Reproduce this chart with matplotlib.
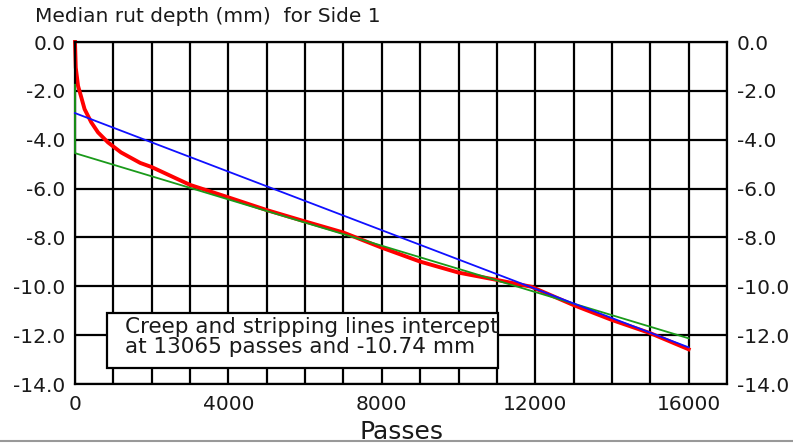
import matplotlib
matplotlib.use("Agg")
import matplotlib.pyplot as plt
from matplotlib.lines import Line2D
from matplotlib.patches import Rectangle
from matplotlib.ticker import MultipleLocator, FixedLocator

# Measured median rut depth (red) against load passes
passes = [0, 20, 40, 80, 165, 250, 425, 600, 860, 1200, 1700, 2000, 3000,
          4000, 5000, 5900, 7000, 8000, 9000, 10000, 11000, 11900, 13000,
          14000, 15000, 16000]
rut_depth = [0.0, -1.05, -1.30, -1.80, -2.27, -2.75, -3.29, -3.70, -4.11,
             -4.52, -4.95, -5.12, -5.85, -6.36, -6.88, -7.30, -7.80, -8.42,
             -8.99, -9.44, -9.74, -10.02, -10.77, -11.38, -11.92, -12.58]

# Fitted creep line (green) and stripping line (blue)
creep_passes = [0, 0, 16000]
creep_depth = [-1.75, -4.55, -12.13]
strip_passes = [0, 16000]
strip_depth = [-2.91, -12.50]

intercept_passes = 13065
intercept_depth = -10.74

x_ticks = [0, 4000, 8000, 12000, 16000]
y_ticks = [0.0, -2.0, -4.0, -6.0, -8.0, -10.0, -12.0, -14.0]

W, H = 793, 443
fig = plt.figure(figsize=(W / 100, H / 100), dpi=100)
fig.patch.set_facecolor("white")

ax = fig.add_axes([75 / W, (H - 384) / H, 652 / W, 342 / H])
ax.set_xlim(0, 17000)
ax.set_ylim(-14, 0)

ax.xaxis.set_major_locator(FixedLocator(x_ticks))
ax.xaxis.set_minor_locator(MultipleLocator(1000))
ax.yaxis.set_major_locator(FixedLocator(y_ticks))
ax.set_yticklabels([f"{abs(v):.1f}" if v == 0 else f"{v:.1f}" for v in y_ticks])
ax.set_xticklabels([str(v) for v in x_ticks])

ax.grid(True, which="both", axis="x", color="black", lw=1.6)
ax.grid(True, which="major", axis="y", color="black", lw=1.6)
ax.set_axisbelow(True)
for s in ax.spines.values():
    s.set_color("black")
    s.set_linewidth(1.6)

txt_color = "#1a1a1a"
ax.tick_params(which="both", length=0, labelsize=14.5, labelcolor=txt_color)
ax.tick_params(axis="y", labelright=True, pad=7)
ax.tick_params(axis="x", pad=8)

ax.plot(creep_passes, creep_depth, color="#1a9a1a", lw=1.3, zorder=3, clip_on=False)
ax.plot(strip_passes, strip_depth, color="#1010ff", lw=1.3, zorder=4, clip_on=False)
ax.plot(passes, rut_depth, color="#ff0000", lw=2.8, zorder=2, clip_on=False,
        solid_joinstyle="round")

# Annotation box with the intercept of the two fitted lines
ax.add_patch(Rectangle((835, -13.34), 11030 - 835, 13.34 - 11.09,
                       facecolor="white", edgecolor="black", lw=1.6, zorder=5))
ax.text(1300, -11.67, "Creep and stripping lines intercept",
        fontsize=15.5, color=txt_color, va="center", ha="left", zorder=6)
ax.text(1300, -12.48,
        f"at {intercept_passes} passes and {intercept_depth:.2f} mm",
        fontsize=15.5, color=txt_color, va="center", ha="left", zorder=6)

ax.set_xlabel("Passes", fontsize=18, color=txt_color, labelpad=4)

fig.text(35 / W, (H - 17) / H, "Median rut depth (mm)  for Side 1",
         fontsize=14.5, color=txt_color, ha="left", va="center")

fig.add_artist(Line2D([0, 1], [(H - 441) / H, (H - 441) / H],
                      transform=fig.transFigure, color="#999999", lw=1.5))

fig.savefig("out.png", dpi=100, facecolor="white")
